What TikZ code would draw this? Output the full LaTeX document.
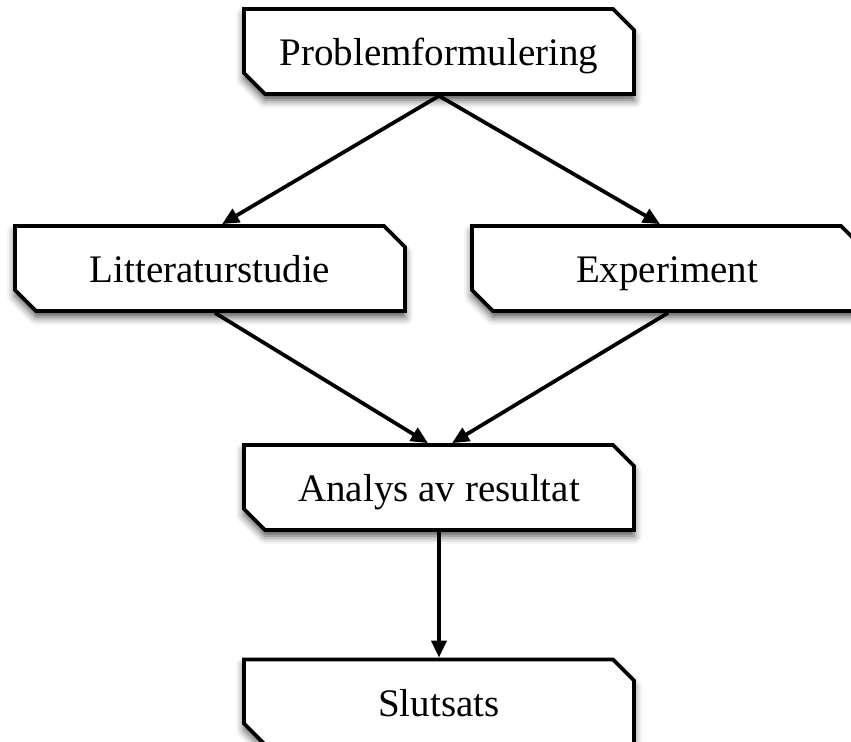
\documentclass[tikz,border=0pt]{standalone}
\usepackage{fontspec}
\setmainfont{Liberation Serif}
\usetikzlibrary{arrows.meta,shapes.misc,shadows.blur}

\tikzset{
	stegbox/.style={chamfered rectangle, chamfered rectangle corners={north east,south west},
		chamfered rectangle xsep=0.21cm, chamfered rectangle ysep=0.21cm,
		draw, line width=0.075cm, fill=white, inner sep=0pt,
		minimum width=7.8cm, minimum height=1.7cm,
		text height=0.62cm, text depth=0.06cm,
		blur shadow={shadow xshift=0pt, shadow yshift=-0.12cm, shadow blur radius=0.16cm, shadow opacity=70},
		font=\fontsize{22.2}{26}\selectfont},
	pil/.style={line width=0.075cm, -{Triangle[length=0.34cm,width=0.3cm]}}
}

\begin{document}
\begin{tikzpicture}
			%%%%% START %%%%%
			\useasboundingbox (0, 0) rectangle (17.02, -14.84);
			
			\node[stegbox] (problem) at (8.78, -1.03) {Problemformulering};
			
			\node[stegbox] (litteratur) at (4.2, -5.37) {Litteraturstudie};
			\node[stegbox] (experiment) at (13.34, -5.37) {Experiment};
			
			\node[stegbox] (analys) at (8.78, -9.75) {Analys av resultat};
			
			\node[stegbox] (slutsats) at (8.78, -14.04) {Slutsats};
			
			\draw[pil] (problem.south) -- ([xshift=0.24cm]litteratur.north);
			\draw[pil] (problem.south) -- ([xshift=-0.14cm]experiment.north);
			
			\draw[pil] ([xshift=0.1cm]litteratur.south) -- ([xshift=-0.22cm]analys.north);
			\draw[pil] ([xshift=0.02cm]experiment.south) -- ([xshift=0.26cm]analys.north);
			
			\draw[pil] (analys.south) -- (slutsats.north);
			
			%%%%% END %%%%%
\end{tikzpicture}
\end{document}
